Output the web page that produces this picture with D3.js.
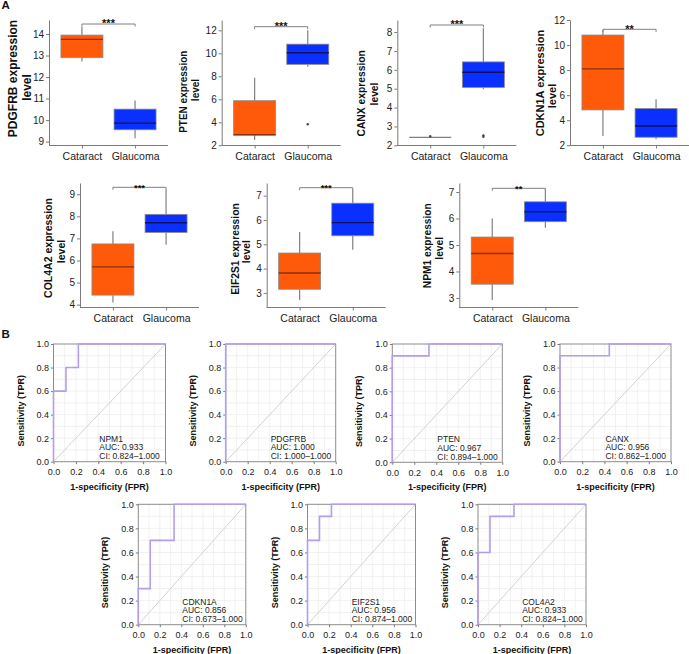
<!DOCTYPE html>
<html><head><meta charset="utf-8">
<script src="https://cdn.jsdelivr.net/npm/d3@7"></script>
<style>
body{margin:0;background:#fff;}
svg text{font-family:"Liberation Sans",Arial,sans-serif;}
</style></head>
<body><svg id="c" width="689" height="654"></svg>
<script>
// ---------- DATA : panel A (box plots) ----------
const boxGenes = ["PDGFRB","PTEN","CANX","CDKN1A","COL4A2","EIF2S1","NPM1"];
const groups = ["Cataract","Glaucoma"];
// [lower whisker, Q1, median, Q3, upper whisker]
const cataractBox = [
  [12.72,12.9,13.75,13.95,14.34],
  [2.46,2.9,2.92,5.88,7.88],
  [2.42,2.42,2.42,2.42,2.42],
  [2.74,4.82,8.1,10.8,11.2],
  [4.1,4.43,5.71,6.75,7.32],
  [2.71,3.15,3.82,4.64,5.5],
  [2.92,3.52,4.68,5.3,6.0]
];
const glaucomaBox = [
  [9.16,9.55,9.86,10.51,10.91],
  [8.84,9.04,10.05,10.8,12.0],
  [4.97,5.07,5.87,6.42,8.2],
  [2.48,2.64,3.54,4.93,5.68],
  [6.71,7.27,7.71,8.09,9.2],
  [4.77,5.35,5.89,6.69,7.25],
  [5.65,5.88,6.25,6.63,7.1]
];
const cataractOutliers = [[],[],[2.48],[],[],[],[]];
const glaucomaOutliers = [[],[3.83],[2.45,2.52],[],[],[],[]];
const significance = ["***","***","***","**","***","***","**"];
const boxTicks = [[9,10,11,12,13,14],[2,4,6,8,10,12],[2,3,4,5,6,7,8],[2,4,6,8,10,12],[4,5,6,7,8,9],[3,4,5,6,7],[3,4,5,6,7]];
const boxDomains = [[8.82,14.65],[1.98,12.9],[1.99,8.64],[1.98,12.0],[3.87,9.51],[2.40,7.52],[2.64,7.34]];

// ---------- DATA : panel B (ROC curves) ----------
const rocGenes = ["NPM1","PDGFRB","PTEN","CANX","CDKN1A","EIF2S1","COL4A2"];
const rocFPR = [
  [0,0,0.111,0.111,0.222,0.222,1],
  [0,0,1],
  [0,0,0.333,0.333,1],
  [0,0,0.444,0.444,1],
  [0,0,0.111,0.111,0.333,0.333,1],
  [0,0,0.111,0.111,0.222,0.222,1],
  [0,0,0.111,0.111,0.333,0.333,1]
];
const rocTPR = [
  [0,0.6,0.6,0.8,0.8,1,1],
  [0,1,1],
  [0,0.9,0.9,1,1],
  [0,0.9,0.9,1,1],
  [0,0.3,0.3,0.7,0.7,1,1],
  [0,0.7,0.7,0.9,0.9,1,1],
  [0,0.6,0.6,0.9,0.9,1,1]
];
const rocAUC = ["0.933","1.000","0.967","0.956","0.856","0.956","0.933"];
const rocCI = ["0.824–1.000","1.000–1.000","0.894–1.000","0.862–1.000","0.673–1.000","0.874–1.000","0.824–1.000"];
const rocTicks = [0,0.2,0.4,0.6,0.8,1.0];

// ---------- LAYOUT ----------
const boxAxisX = [49,221.7,397.3,570,80,266.7,459.3];
const boxRow = [0,0,0,0,1,1,1];
const rowRange = [[145.5,20],[307.5,183]];
const lab1X = [13,183.3,361.7,540,48.3,235,427.3];
const lab2X = [26.7,195,374,551.7,60.7,246.7,439.3];
const lab1Y = [78.5,91.7,93.3,83,248,249,245.7];
const lab2Y = [87.5,90,94,96,251.5,251.7,248.3];
const labFont = [12,10,10.3,11,10.5,10.3,10.2];
const bracketY = [24,26.7,25,29.3,187.3,187.7,188.3];
const starFont = [11,11,11,11,9.5,9.5,9.5];

const rocLeft = [53.5,225.7,392.3,560,138.3,307.5,478];
const rocTop = [344,344,344,344,504.3,504.3,504.3];
const rocW = [112,110,110,111,107.5,108,108];
const rocH = [117.7,117.7,118.3,117.7,120.4,120.4,120.4];

const svg = d3.select("#c");
const ORANGE="#ff5a0a", ORANGE_MED="#8a3208", BLUE="#0a30ff", BLUE_MED="#0d1060";
const AXIS="#7a7a7a", TXT="#222";

svg.append("text").attr("x",1.5).attr("y",9).attr("font-size",11.5).attr("font-weight","bold").attr("fill","#111").text("A");
svg.append("text").attr("x",1.5).attr("y",338).attr("font-size",11.5).attr("font-weight","bold").attr("fill","#111").text("B");

function styleAxis(g){
  g.selectAll("path,line").attr("stroke",AXIS).attr("stroke-width",1);
  g.selectAll("text").attr("fill",TXT).attr("font-family","Liberation Sans, Arial, sans-serif");
}

boxGenes.forEach((gene,i)=>{
  const rr = rowRange[boxRow[i]];
  const y = d3.scaleLinear().domain(boxDomains[i]).range(rr);
  const x0 = boxAxisX[i];
  const x = d3.scalePoint().domain(groups).range([x0, x0+119]).padding(0.62);
  const g = svg.append("g");
  const ya = g.append("g").attr("transform",`translate(${x0},0)`)
    .call(d3.axisLeft(y).tickValues(boxTicks[i]).tickSize(3).tickPadding(2).tickSizeOuter(0).tickFormat(d3.format("d")));
  ya.selectAll("text").attr("font-size",10);
  styleAxis(ya);
  const xa = g.append("g").attr("transform",`translate(0,${rr[0]})`)
    .call(d3.axisBottom(x).tickSize(3).tickPadding(4).tickSizeOuter(0));
  xa.select("path").attr("d",`M${x0},0H${x0+119}`);
  xa.selectAll("text").attr("font-size",10.5);
  styleAxis(xa);

  const stats=[cataractBox[i],glaucomaBox[i]];
  const outs=[cataractOutliers[i],glaucomaOutliers[i]];
  const fills=[ORANGE,BLUE], meds=[ORANGE_MED,BLUE_MED];
  const bw=42;
  groups.forEach((grp,k)=>{
    const s=stats[k], cx=x(grp);
    g.append("line").attr("x1",cx).attr("x2",cx).attr("y1",y(s[0])).attr("y2",y(s[1])).attr("stroke","#808080").attr("stroke-width",1.2);
    g.append("line").attr("x1",cx).attr("x2",cx).attr("y1",y(s[3])).attr("y2",y(s[4])).attr("stroke","#808080").attr("stroke-width",1.2);
    g.append("rect").attr("x",cx-bw/2).attr("width",bw).attr("y",y(s[3])).attr("height",Math.max(0,y(s[1])-y(s[3])))
      .attr("fill",fills[k]).attr("stroke","#8c8c8c").attr("stroke-width",0.8);
    g.append("line").attr("x1",cx-bw/2).attr("x2",cx+bw/2).attr("y1",y(s[2])).attr("y2",y(s[2]))
      .attr("stroke", s[1]===s[3]?"#808080":meds[k]).attr("stroke-width",1.4);
    outs[k].forEach(v=>{
      g.append("circle").attr("cx",cx).attr("cy",y(v)).attr("r",1.2).attr("fill","#444");
    });
  });
  // significance bracket
  const by=bracketY[i], xa1=x(groups[0]), xa2=x(groups[1]);
  g.append("path").attr("d",`M${xa1},${by+2.5}V${by}H${xa2}V${by+2.5}`).attr("fill","none").attr("stroke","#808080").attr("stroke-width",1);
  g.append("text").attr("x",(xa1+xa2)/2).attr("y",by+3.2).attr("text-anchor","middle").attr("font-size",starFont[i]).attr("font-weight","bold").attr("fill","#111").text(significance[i]);
  // y label (two lines)
  g.append("text").attr("transform",`translate(${lab1X[i]},${lab1Y[i]}) rotate(-90)`).attr("text-anchor","middle").attr("dominant-baseline","central")
    .attr("font-size",labFont[i]).attr("font-weight","bold").attr("fill","#111").text(gene+" expression");
  g.append("text").attr("transform",`translate(${lab2X[i]},${lab2Y[i]}) rotate(-90)`).attr("text-anchor","middle").attr("dominant-baseline","central")
    .attr("font-size",labFont[i]).attr("font-weight","bold").attr("fill","#111").text("level");
});

// ---------- ROC ----------
rocGenes.forEach((gene,i)=>{
  const L=rocLeft[i], T=rocTop[i], W=rocW[i], H=rocH[i];
  const x=d3.scaleLinear().domain([0,1]).range([L,L+W]);
  const y=d3.scaleLinear().domain([0,1]).range([T+H,T]);
  const g=svg.append("g");
  const grid=d3.range(1,10).map(d=>d/10);
  grid.forEach(v=>{
    g.append("line").attr("x1",x(v)).attr("x2",x(v)).attr("y1",T).attr("y2",T+H).attr("stroke","#ededed").attr("stroke-width",0.8);
    g.append("line").attr("y1",y(v)).attr("y2",y(v)).attr("x1",L).attr("x2",L+W).attr("stroke","#ededed").attr("stroke-width",0.8);
  });
  g.append("line").attr("x1",x(0)).attr("y1",y(0)).attr("x2",x(1)).attr("y2",y(1)).attr("stroke","#d2d2d2").attr("stroke-width",1);
  g.append("rect").attr("x",L).attr("y",T).attr("width",W).attr("height",H).attr("fill","none").attr("stroke","#8c8c8c").attr("stroke-width",1);
  const ya=g.append("g").attr("transform",`translate(${L},0)`).call(d3.axisLeft(y).tickValues(rocTicks).tickSize(2.5).tickPadding(2).tickSizeOuter(0).tickFormat(d3.format(".1f")));
  ya.select("path").remove();
  ya.selectAll("text").attr("font-size",9);
  styleAxis(ya);
  const xa=g.append("g").attr("transform",`translate(0,${T+H})`).call(d3.axisBottom(x).tickValues(rocTicks).tickSize(2.5).tickPadding(4.5).tickSizeOuter(0).tickFormat(d3.format(".1f")));
  xa.select("path").remove();
  xa.selectAll("text").attr("font-size",9);
  styleAxis(xa);
  const pts=rocFPR[i].map((f,k)=>[x(f),y(rocTPR[i][k])]);
  g.append("path").attr("d",d3.line()(pts)).attr("fill","none").attr("stroke","#b49cf0").attr("stroke-width",1.6);
  const tx=x(0.4)+1;
  [gene,"AUC: "+rocAUC[i],"CI: "+rocCI[i]].forEach((t,k)=>{
    g.append("text").attr("x",tx).attr("y",T+H-20+k*8.7).attr("font-size",8.5).attr("fill","#222").text(t);
  });
  g.append("text").attr("transform",`translate(${L-33},${T+H/2+8}) rotate(-90)`).attr("text-anchor","middle").attr("dominant-baseline","central")
    .attr("font-size",9).attr("font-weight","bold").attr("fill","#111").text("Sensitivity (TPR)");
  g.append("text").attr("x",L+W/2).attr("y",T+H+28).attr("text-anchor","middle")
    .attr("font-size",9).attr("font-weight","bold").attr("fill","#111").text("1-specificity (FPR)");
});
</script></body></html>
